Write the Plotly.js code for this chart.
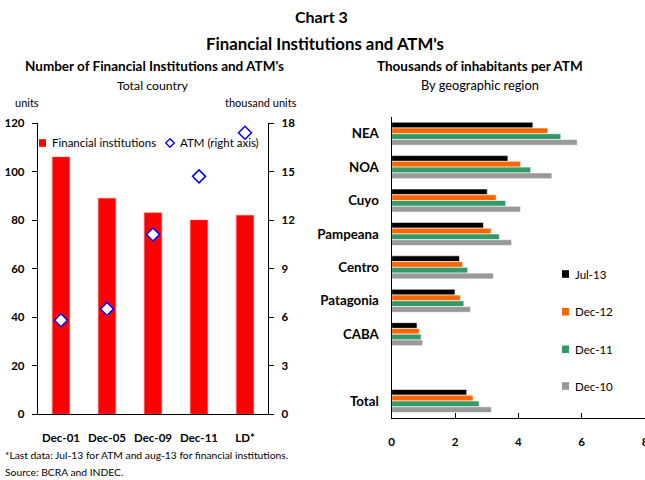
<!DOCTYPE html>
<html><head><meta charset="utf-8">
<script src="https://cdn.plot.ly/plotly-3.0.1.min.js"></script>
<style>html,body{margin:0;padding:0;background:#fff}#chart{width:645px;height:480px}</style>
</head><body><div id="chart"></div>
<script>
// ---- Left panel data ----
const periods = ['Dec-01', 'Dec-05', 'Dec-09', 'Dec-11', 'LD*'];
const financialInstitutions = [106, 89, 83, 80, 82];
const atmThousands = [5.8, 6.5, 11.1, 14.7, 17.4];

// ---- Right panel data ----
const regions = ['NEA', 'NOA', 'Cuyo', 'Pampeana', 'Centro', 'Patagonia', 'CABA', ' ', 'Total'];
const jul13 = [4.46, 3.67, 3.02, 2.90, 2.14, 2.00, 0.80, null, 2.37];
const dec12 = [4.93, 4.07, 3.30, 3.14, 2.24, 2.17, 0.87, null, 2.57];
const dec11 = [5.34, 4.39, 3.60, 3.40, 2.40, 2.28, 0.93, null, 2.76];
const dec10 = [5.86, 5.06, 4.07, 3.79, 3.21, 2.49, 0.98, null, 3.15];
const seriesNames = ['Jul-13', 'Dec-12', 'Dec-11', 'Dec-10'];
const seriesValues = [jul13, dec12, dec11, dec10];
const seriesColors = ['#000000', '#FF6600', '#339966', '#999999'];

const W = 645, H = 480;
const px = v => v / W;
const py = v => 1 - v / H;
const FONT = 'Lato, "Open Sans", sans-serif';

const traces = [
  {
    type: 'bar', x: periods, y: financialInstitutions, name: 'Financial institutions',
    xaxis: 'x', yaxis: 'y', width: 0.38,
    marker: {color: '#FF0000', line: {color: '#FF6666', width: 0.5}}
  },
  {
    type: 'scatter', mode: 'markers', x: periods, y: atmThousands, name: 'ATM (right axis)',
    xaxis: 'x', yaxis: 'y2',
    marker: {symbol: 'diamond', size: 10, color: '#FFFFFF', line: {color: '#0000FF', width: 1.5}}
  }
];
seriesNames.forEach((n, i) => {
  traces.push({
    type: 'bar', orientation: 'h', name: n, x: seriesValues[i], y: regions,
    xaxis: 'x2', yaxis: 'y3',
    marker: {color: seriesColors[i], line: {color: '#FFFFFF', width: 0.6}}
  });
});

const tickFont = {family: FONT, size: 11.5, color: '#000', weight: 'bold'};

// ---- legend keys (drawn as shapes + text) ----
const shapes = [];
const legendTexts = [];
function squareKey(xl, yc, color, text, size) {
  shapes.push({type: 'rect', xref: 'paper', yref: 'paper',
    x0: px(xl), x1: px(xl + 7), y0: py(yc - 3.8), y1: py(yc + 3.8),
    fillcolor: color, line: {width: 0}});
  legendTexts.push({text: text, x: px(xl + 11), y: py(yc), size: size, normal: true, xanchor: 'left'});
}
squareKey(39, 143, '#FF0000', 'Financial institutions', 11.5);
// diamond key
(function () {
  const cx = 170, cy = 143, r = 4.3;
  shapes.push({type: 'path', xref: 'paper', yref: 'paper',
    path: `M ${px(cx)},${py(cy - r)} L ${px(cx + r)},${py(cy)} L ${px(cx)},${py(cy + r)} L ${px(cx - r)},${py(cy)} Z`,
    fillcolor: '#FFFFFF', line: {color: '#0000FF', width: 1.3}});
  legendTexts.push({text: 'ATM (right axis)', x: px(178), y: py(cy), size: 11.5, normal: true, xanchor: 'left'});
})();
const rightKeyY = [274, 311.7, 349.3, 386];
seriesNames.forEach((n, i) => squareKey(562, rightKeyY[i], seriesColors[i], n, 11.5));

const layout = {
  width: W, height: H,
  margin: {l: 0, r: 0, t: 0, b: 0},
  paper_bgcolor: '#fff', plot_bgcolor: 'rgba(0,0,0,0)',
  font: {family: FONT, color: '#000'},
  showlegend: false,
  barmode: 'group', bargap: 0.31, bargroupgap: 0,
  xaxis: {
    domain: [px(38), px(268)], anchor: 'y', type: 'category',
    showline: true, linecolor: '#000', linewidth: 1.2, ticks: '', showgrid: false,
    tickfont: tickFont, ticklabelstandoff: 13, fixedrange: true
  },
  yaxis: {
    domain: [py(414), py(123)], anchor: 'x', range: [0, 120], tickvals: [0, 20, 40, 60, 80, 100, 120],
    showline: true, linecolor: '#000', linewidth: 1.2, ticks: 'outside', ticklen: 5, tickcolor: '#000',
    showgrid: false, zeroline: false, tickfont: tickFont, ticklabelstandoff: 5
  },
  yaxis2: {
    overlaying: 'y', side: 'right', anchor: 'x', range: [0, 18], tickvals: [0, 3, 6, 9, 12, 15, 18],
    showline: true, linecolor: '#000', linewidth: 1.2, ticks: 'outside', ticklen: 5, tickcolor: '#000',
    showgrid: false, zeroline: false, tickfont: tickFont, ticklabelstandoff: 5
  },
  xaxis2: {
    domain: [px(391.7), 1], anchor: 'y3', range: [0, 8], tickvals: [0, 2, 4, 6, 8],
    showline: true, linecolor: '#000', linewidth: 1.2, ticks: 'inside', ticklen: 5, tickcolor: '#000',
    showgrid: false, zeroline: false, tickfont: tickFont, ticklabelstandoff: 13,
    ticklabeloverflow: 'allow'
  },
  yaxis3: {
    domain: [py(417.7), py(117)], anchor: 'x2', type: 'category',
    categoryorder: 'array', categoryarray: regions, autorange: 'reversed',
    showline: true, linecolor: '#000', linewidth: 1.2, ticks: '', showgrid: false,
    tickfont: {family: FONT, size: 13.3, color: '#000', weight: 'bold'}, ticklabelstandoff: 9
  },
  shapes: shapes,
  annotations: [
    {text: 'Chart 3', x: px(321), y: py(17), size: 16},
    {text: "Financial Institutions and ATM's", x: px(325), y: py(43), size: 16.8},
    {text: "Number of Financial Institutions and ATM's", x: px(154), y: py(66), size: 13.5},
    {text: 'Total country', x: px(152), y: py(85), size: 12.3, normal: true},
    {text: 'Thousands of inhabitants per ATM', x: px(480), y: py(66), size: 13.5},
    {text: 'By geographic region', x: px(480), y: py(85), size: 12.8, normal: true},
    {text: 'units', x: px(13), y: py(102), size: 11, normal: true, xanchor: 'left'},
    {text: 'thousand units', x: px(299), y: py(102), size: 11, normal: true, xanchor: 'right'},
    {text: '*Last data: Jul-13 for ATM and aug-13 for financial institutions.', x: px(3), y: py(455), size: 10.3, normal: true, xanchor: 'left'},
    {text: 'Source: BCRA and INDEC.', x: px(3), y: py(472), size: 10.3, normal: true, xanchor: 'left'}
  ].concat(legendTexts).map(a => ({
    text: a.text, xref: 'paper', yref: 'paper', x: a.x, y: a.y,
    xanchor: a.xanchor || 'center', yanchor: 'middle', showarrow: false,
    font: {family: FONT, size: a.size, color: '#000', weight: a.normal ? 'normal' : 'bold'}
  }))
};

Plotly.newPlot('chart', traces, layout, {displayModeBar: false, staticPlot: true});
</script>
</body></html>
